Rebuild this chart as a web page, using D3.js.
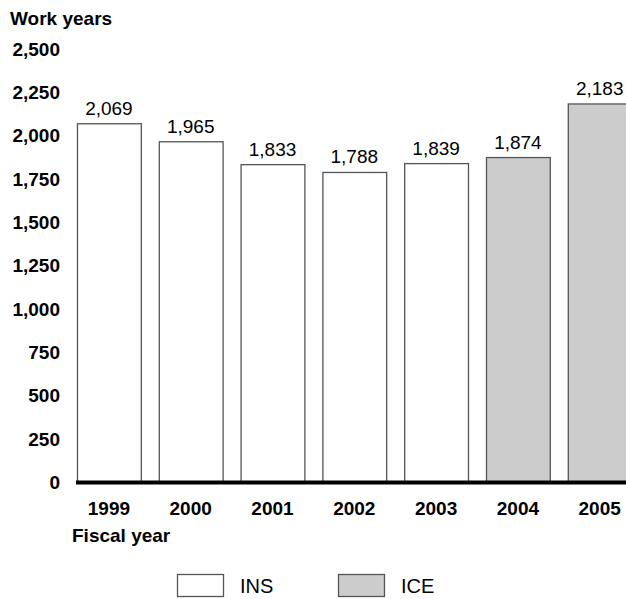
<!DOCTYPE html>
<html><head><meta charset="utf-8">
<script src="https://cdn.jsdelivr.net/npm/d3@7"></script>
<style>
body{margin:0;background:#fff;}
text{font-family:"Liberation Sans",Arial,Helvetica,sans-serif;fill:#000;}
</style></head>
<body><svg id="c" width="626" height="599"></svg>
<script>
const years = ["1999","2000","2001","2002","2003","2004","2005"];
const workYears = [2069,1965,1833,1788,1839,1874,2183];
const agency = ["INS","INS","INS","INS","INS","ICE","ICE"];
const yTicks = [0,250,500,750,1000,1250,1500,1750,2000,2250,2500];
const legendItems = ["INS","ICE"];
const colors = {INS:"#ffffff", ICE:"#cccccc"};

const svg = d3.select("#c");
const fmt = d3.format(",");
const y = d3.scaleLinear().domain([0,2500]).range([482.5,49]);
const x = d3.scaleBand().domain(years).range([68,640.6]).paddingInner(0.22).paddingOuter(0.11);

// y tick labels
svg.append("g").selectAll("text").data(yTicks).join("text")
  .attr("x",60).attr("y",d=>y(d)).attr("dy","0.35em")
  .attr("text-anchor","end").attr("font-weight","bold").attr("font-size","19px")
  .text(d=>fmt(d));

svg.append("text").attr("x",10).attr("y",25).attr("font-weight","bold").attr("font-size","19px").text("Work years");

// bars
svg.append("g").selectAll("rect").data(years).join("rect")
  .attr("x",d=>x(d)+0.5).attr("y",(d,i)=>y(workYears[i]))
  .attr("width",x.bandwidth()).attr("height",(d,i)=>y(0)-y(workYears[i]))
  .attr("fill",(d,i)=>colors[agency[i]]).attr("stroke","#555").attr("stroke-width",1.3);

// value labels
svg.append("g").selectAll("text").data(years).join("text")
  .attr("x",d=>x(d)+x.bandwidth()/2).attr("y",(d,i)=>y(workYears[i])-9)
  .attr("text-anchor","middle").attr("font-size","19px")
  .text((d,i)=>fmt(workYears[i]));

// baseline
svg.append("line").attr("x1",76).attr("x2",626).attr("y1",y(0)).attr("y2",y(0))
  .attr("stroke","#000").attr("stroke-width",4);

// x labels
svg.append("g").selectAll("text").data(years).join("text")
  .attr("x",d=>x(d)+x.bandwidth()/2).attr("y",515)
  .attr("text-anchor","middle").attr("font-weight","bold").attr("font-size","19px")
  .text(d=>d);

svg.append("text").attr("x",72).attr("y",542).attr("font-weight","bold").attr("font-size","19px").text("Fiscal year");

// legend
const lx = d3.scalePoint().domain(legendItems).range([177,338]);
const lg = svg.append("g").selectAll("g").data(legendItems).join("g")
  .attr("transform",d=>`translate(${lx(d)},574)`);
lg.append("rect").attr("x",0.5).attr("y",0.5).attr("width",46).attr("height",22)
  .attr("fill",d=>colors[d]).attr("stroke","#555").attr("stroke-width",1.3);
lg.append("text").attr("x",63).attr("y",19).attr("font-size","20px").text(d=>d);
</script></body></html>
